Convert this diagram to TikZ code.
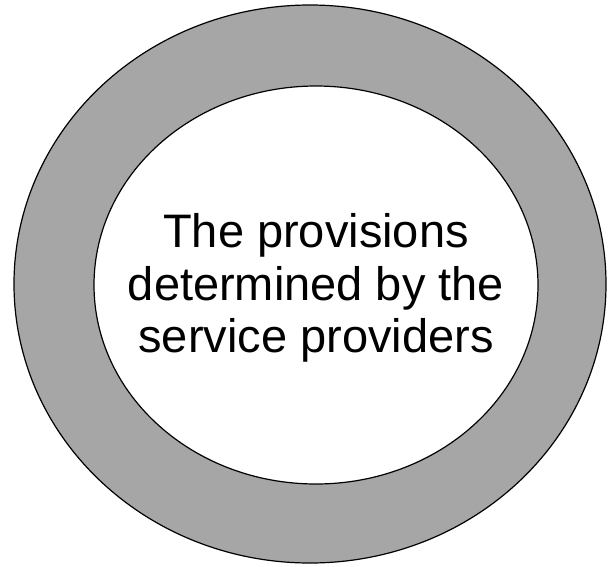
\documentclass[tikz,border=0pt]{standalone}
\usepackage{fontspec}
\setmainfont{Liberation Sans}
\usepackage{tikz}
\usetikzlibrary{shapes.geometric}

\definecolor{ringgray}{RGB}{166,166,166}

\begin{document}
\begin{tikzpicture}[x=1pt, y=-1pt,
  ring/.style={ellipse, draw, line width=1.2pt, inner sep=0pt},
  core/.style={ellipse, draw, line width=1.2pt, fill=white, inner sep=0pt},
  coretext/.style={align=center, font=\fontsize{47}{52.5}\selectfont, yshift=-3pt}]

\useasboundingbox (0,0) rectangle (608,566);

\node[ring, fill=ringgray, minimum width=592pt, minimum height=558pt] (outer) at (310,284) {};

\node[core, minimum width=444pt, minimum height=398pt,
  label={[coretext]center:The provisions\\determined by the\\service providers}] (inner) at (316,285) {};

\end{tikzpicture}
\end{document}
